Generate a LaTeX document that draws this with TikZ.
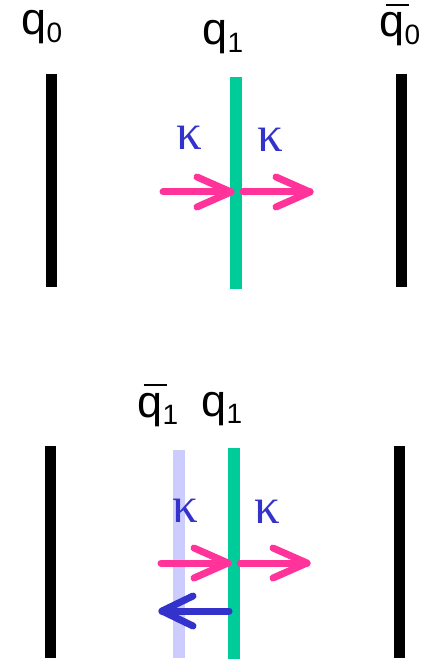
\documentclass[tikz,border=0pt]{standalone}
\usepackage{fontspec}
\setmainfont{Liberation Sans}
\newfontfamily\kapfont{Liberation Serif}
\definecolor{qgreen}{HTML}{00CC99}
\definecolor{qpink}{HTML}{FF3399}
\definecolor{qblue}{HTML}{3333CC}
\definecolor{qlight}{HTML}{CCCCFF}
\newcommand\qsub[1]{\raisebox{-7.5pt}{\fontsize{28}{30}\selectfont #1}}
\newcommand\qbr{\rlap{\hspace{0.13em}\rule[0.68em]{0.52em}{0.055em}}q}
\tikzset{
  wall/.style={line width=11pt, black},
  quark/.style={line width=12pt, qgreen},
  antiq/.style={line width=12pt, qlight},
  flow/.style={line width=7pt, qpink, line cap=round, line join=round},
  back/.style={line width=7pt, qblue, line cap=round, line join=round},
  lab/.style={font=\fontsize{45}{47}\selectfont, inner sep=0pt, anchor=base west},
  kap/.style={font=\kapfont\fontsize{51}{53}\selectfont, text=qblue, inner sep=0pt, anchor=base},
}
\begin{document}
\begin{tikzpicture}[x=1pt,y=-1pt]
\useasboundingbox (0,0) rectangle (437,660);
% ---- top panel ----
\coordinate (lw1a) at (51.5,74); \coordinate (lw1b) at (51.5,287);
\coordinate (g1a) at (236,77); \coordinate (g1b) at (236,289);
\coordinate (rw1a) at (401.5,74); \coordinate (rw1b) at (401.5,287);
\draw[wall] (lw1a) -- (lw1b);
\draw[quark] (g1a) -- (g1b);
\draw[wall] (rw1a) -- (rw1b);
\node[lab] (tq0) at (21.5,35) {q\qsub{0}};
\node[lab] (tq1) at (202.5,45) {q\qsub{1}};
\node[lab] (tqb0) at (379.5,37) {\qbr\qsub{0}};
\node[kap] (k1) at (189,150) {κ};
\node[kap] (k2) at (270,152) {κ};
\coordinate (a1s) at (163,192); \coordinate (a1t) at (231,192);
\coordinate (a2s) at (243,192); \coordinate (a2t) at (310,192);
\draw[flow] (a1s) -- (a1t);
\draw[flow] ([shift={(-34,-15)}]a1t) -- (a1t) -- ([shift={(-34,15)}]a1t);
\draw[flow] (a2s) -- (a2t);
\draw[flow] ([shift={(-34,-15)}]a2t) -- (a2t) -- ([shift={(-34,15)}]a2t);
% ---- bottom panel ----
\coordinate (lw2a) at (50,446); \coordinate (lw2b) at (50,658);
\coordinate (b2a) at (179,450); \coordinate (b2b) at (179,658);
\coordinate (g2a) at (234,448); \coordinate (g2b) at (234,659);
\coordinate (rw2a) at (399,446); \coordinate (rw2b) at (399,658);
\draw[wall] (lw2a) -- (lw2b);
\draw[antiq] (b2a) -- (b2b);
\draw[quark] (g2a) -- (g2b);
\draw[wall] (rw2a) -- (rw2b);
\node[lab] (bqb1) at (137.5,417) {\qbr\qsub{1}};
\node[lab] (bq1) at (201.5,416) {q\qsub{1}};
\node[kap] (k3) at (185.5,522) {κ};
\node[kap] (k4) at (267.5,523) {κ};
\coordinate (a3s) at (161,563); \coordinate (a3t) at (228,563);
\coordinate (a4s) at (240,563); \coordinate (a4t) at (307,563);
\draw[flow] (a3s) -- (a3t);
\draw[flow] ([shift={(-34,-15)}]a3t) -- (a3t) -- ([shift={(-34,15)}]a3t);
\draw[flow] (a4s) -- (a4t);
\draw[flow] ([shift={(-34,-15)}]a4t) -- (a4t) -- ([shift={(-34,15)}]a4t);
\coordinate (bks) at (229,611); \coordinate (bkt) at (162,611);
\draw[back] (bks) -- (bkt);
\draw[back] ([shift={(31,-15)}]bkt) -- (bkt) -- ([shift={(31,15)}]bkt);
\end{tikzpicture}
\end{document}
